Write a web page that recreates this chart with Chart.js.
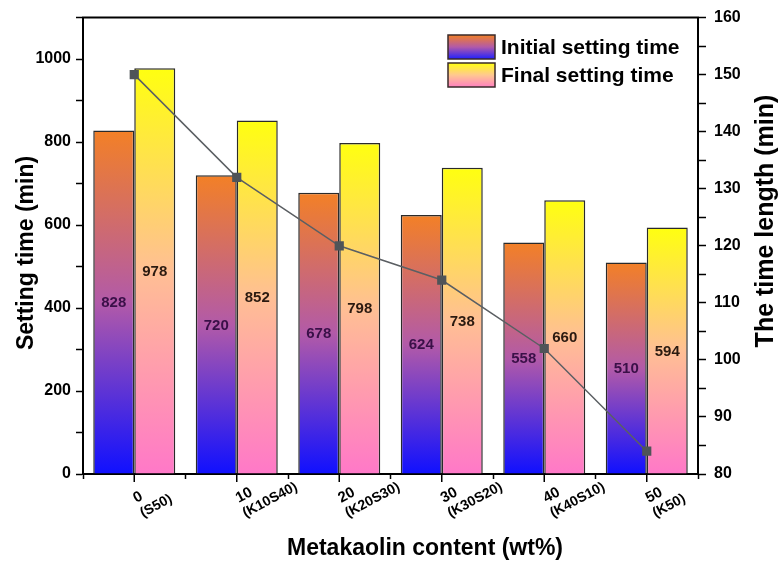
<!DOCTYPE html>
<html>
<head>
<meta charset="utf-8">
<script src="https://cdn.jsdelivr.net/npm/chart.js@4/dist/chart.umd.min.js"></script>
<style>
  body { margin: 0; background: #fff; }
  #wrap { width: 778px; height: 561px; position: relative; }
</style>
</head>
<body>
<div id="wrap"><canvas id="settingChart"></canvas></div>
<script>
// values
const contents = ['0', '10', '20', '30', '40', '50'];
const mixLabels = ['(S50)', '(K10S40)', '(K20S30)', '(K30S20)', '(K40S10)', '(K50)'];
const initialTime = [828, 720, 678, 624, 558, 510];
const finalTime = [978, 852, 798, 738, 660, 594];
const timeLength = [150, 132, 120, 114, 102, 84];

const FONT = '"Liberation Sans", Arial, Helvetica, sans-serif';

function barGradient(ctx, stops, fallback) {
    const chart = ctx.chart;
    if (!chart.chartArea || ctx.type !== 'data') return fallback;
    const y = chart.scales.y;
    const top = y.getPixelForValue(ctx.raw);
    const bottom = y.getPixelForValue(0);
    const g = chart.ctx.createLinearGradient(0, bottom, 0, top);
    stops.forEach(s => g.addColorStop(s[0], s[1]));
    return g;
}

const initialStops = [[0, '#1010ff'], [0.5, '#b25aa8'], [1, '#f38026']];
const finalStops = [[0, '#ff78c8'], [0.5, '#ffbf94'], [1, '#ffff10']];

const extras = {
    id: 'extras',
    afterDatasetDraw(chart, args) {
        // dataset 1 = initial, dataset 2 = final
        if (args.index === 0) return;
        const c = chart.ctx;
        const vals = args.index === 1 ? initialTime : finalTime;
        c.save();
        c.font = 'bold 15px ' + FONT;
        c.textAlign = 'center';
        c.textBaseline = 'middle';
        c.fillStyle = args.index === 1 ? '#3a1048' : '#2b1a10';
        args.meta.data.forEach((bar, i) => {
            c.fillText(vals[i], bar.x, (bar.y + bar.base) / 2 + 1);
        });
        c.restore();
    },
    afterDraw(chart) {
        const c = chart.ctx;
        const a = chart.chartArea;
        const x = chart.scales.x;
        c.save();
        // top frame
        c.strokeStyle = '#000';
        c.lineWidth = 2;
        c.beginPath();
        c.moveTo(a.left - 1, a.top);
        c.lineTo(a.right + 1, a.top);
        c.stroke();
        // major ticks at category centres
        c.lineWidth = 1.5;
        contents.forEach((v, i) => {
            const px = x.getPixelForValue(i);
            c.beginPath();
            c.moveTo(px, a.bottom);
            c.lineTo(px, a.bottom + 8);
            c.stroke();
        });
        // rotated two-line category labels
        c.fillStyle = '#000';
        c.textAlign = 'left';
        c.textBaseline = 'alphabetic';
        contents.forEach((v, i) => {
            const px = x.getPixelForValue(i);
            c.save();
            c.translate(px + 2, a.bottom + 29);
            c.rotate(-28 * Math.PI / 180);
            c.font = 'bold 15px ' + FONT;
            c.fillText(v, 0, 0);
            c.font = 'bold 14px ' + FONT;
            c.fillText(mixLabels[i], -1, 16);
            c.restore();
        });
        // axis titles
        c.font = 'bold 23px ' + FONT;
        c.textAlign = 'center';
        c.fillText('Metakaolin content (wt%)', 425, 555);
        c.textBaseline = 'middle';
        c.save();
        c.translate(27, 253);
        c.rotate(-Math.PI / 2);
        c.fillText('Setting time (min)', 0, 0);
        c.restore();
        c.save();
        c.font = 'bold 25px ' + FONT;
        c.translate(766, 221);
        c.rotate(-Math.PI / 2);
        c.fillText('The time length (min)', 0, 0);
        c.restore();
        // legend
        const items = [
            ['Initial setting time', [[0, '#2020ff'], [0.5, '#b25aa8'], [1, '#f38026']], 35],
            ['Final setting time', [[0, '#ff80c0'], [0.5, '#ffc890'], [1, '#ffff10']], 63]
        ];
        items.forEach(it => {
            const g = c.createLinearGradient(0, it[2] + 24, 0, it[2]);
            it[1].forEach(s => g.addColorStop(s[0], s[1]));
            c.fillStyle = g;
            c.fillRect(448, it[2], 47, 24);
            c.strokeStyle = '#3a2a2a';
            c.lineWidth = 1.5;
            c.strokeRect(448, it[2], 47, 24);
            c.fillStyle = '#000';
            c.font = 'bold 21px ' + FONT;
            c.textAlign = 'left';
            c.textBaseline = 'middle';
            c.fillText(it[0], 501, it[2] + 13);
        });
        c.restore();
    }
};

const ctx = document.getElementById('settingChart').getContext('2d');
new Chart(ctx, {
    type: 'bar',
    data: {
        labels: contents,
        datasets: [
            {
                type: 'line',
                label: 'The time length',
                data: timeLength,
                yAxisID: 'y1',
                borderColor: '#5b5f63',
                borderWidth: 1.5,
                pointStyle: 'rect',
                pointRadius: 6.5,
                pointBackgroundColor: '#4f5458',
                pointBorderWidth: 0,
                tension: 0,
                order: 0
            },
            {
                label: 'Initial setting time',
                data: initialTime,
                yAxisID: 'y',
                backgroundColor: c => barGradient(c, initialStops, '#b25aa8'),
                borderColor: '#2a2a2a',
                borderWidth: 1.5,
                barPercentage: 1.0,
                categoryPercentage: 0.8,
                order: 1
            },
            {
                label: 'Final setting time',
                data: finalTime,
                yAxisID: 'y',
                backgroundColor: c => barGradient(c, finalStops, '#ffbf94'),
                borderColor: '#2a2a2a',
                borderWidth: 1.5,
                barPercentage: 1.0,
                categoryPercentage: 0.8,
                order: 1
            }
        ]
    },
    options: {
        responsive: true,
        maintainAspectRatio: false,
        animation: false,
        layout: { padding: { top: 16, left: 0, right: 0, bottom: 0 } },
        plugins: {
            legend: { display: false },
            tooltip: { enabled: false }
        },
        scales: {
            x: {
                offset: true,
                grid: { offset: true, drawOnChartArea: false, tickLength: 5, tickColor: '#000', tickWidth: 1.5 },
                border: { color: '#000', width: 2 },
                ticks: { display: false },
                afterFit: s => { s.height = 87; }
            },
            y: {
                position: 'left',
                min: 0,
                max: 1100,
                ticks: {
                    stepSize: 100,
                    autoSkip: false,
                    padding: 5,
                    color: '#000',
                    font: { family: FONT, size: 16, weight: 'bold' },
                    callback: v => (v % 200 === 0 ? v : '')
                },
                grid: { drawOnChartArea: false, tickLength: 7, tickColor: '#000', tickWidth: 1.5 },
                border: { color: '#000', width: 2 },
                afterFit: s => { s.width = 83; }
            },
            y1: {
                position: 'right',
                min: 80,
                max: 160,
                ticks: {
                    stepSize: 5,
                    autoSkip: false,
                    padding: 8,
                    color: '#000',
                    font: { family: FONT, size: 16, weight: 'bold' },
                    callback: v => (v % 10 === 0 ? v : '')
                },
                grid: { drawOnChartArea: false, tickLength: 8, tickColor: '#000', tickWidth: 1.5 },
                border: { color: '#000', width: 2 },
                afterFit: s => { s.width = 80; }
            }
        }
    },
    plugins: [extras]
});
</script>
</body>
</html>
